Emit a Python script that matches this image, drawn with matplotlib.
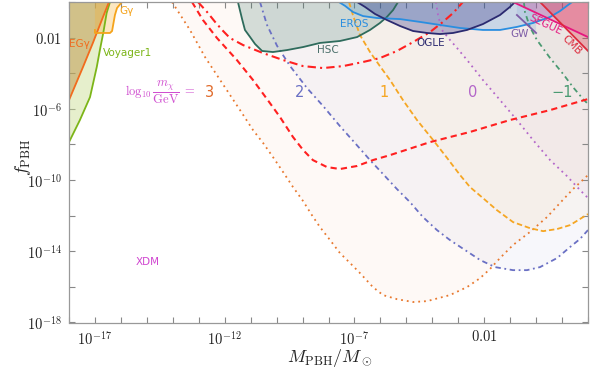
import numpy as np
import matplotlib
matplotlib.use("Agg")
import matplotlib.pyplot as plt
from matplotlib.ticker import FixedLocator, FuncFormatter, NullLocator

plt.rcParams['mathtext.fontset'] = 'cm'
plt.rcParams['font.family'] = ['DejaVu Sans']

# ---------------- data (log10 M/Msun, log10 f_PBH) ----------------
# XDM bounds, one per log10(m_chi/GeV)
xdm3_x = [-14.03, -13.34, -12.76, -12.10, -11.41, -10.91, -10.52, -10.14, -9.75, -9.37, -8.98, -8.64,
          -8.33, -7.94, -7.56, -7.17, -6.79, -6.29, -5.90, -5.36, -4.74, -4.20, -3.32, -2.66, -2.16,
          -1.78, -1.39, -0.89, -0.24, 0.42, 0.92, 1.42, 2.0]
xdm3_y = [0, -1.57, -3.09, -4.55, -6.07, -7.19, -7.92, -8.71, -9.55, -10.39, -11.18, -11.97,
          -12.64, -13.37, -14.10, -14.66, -15.22, -16.01, -16.46, -16.69, -16.85, -16.80, -16.46, -16.01, -15.51,
          -15.00, -14.38, -13.65, -12.92, -12.08, -11.29, -10.51, -9.72]

xdm2_x = [-10.64, -10.37, -9.98, -9.48, -8.83, -8.21, -7.56, -6.98, -6.40, -5.90, -5.36, -4.86, -4.36,
          -3.82, -3.32, -2.74, -2.16, -1.58, -0.89, -0.35, 0.15, 0.81, 1.31, 1.69, 2.0]
xdm2_y = [0, -1.29, -2.47, -3.60, -4.83, -5.84, -6.97, -7.92, -8.88, -9.66, -10.51, -11.24, -12.08,
          -12.81, -13.37, -13.93, -14.49, -14.89, -15.06, -15.06, -14.89, -14.38, -13.76, -13.31, -12.81]

xdm1_x = [-7.21, -7.06, -6.79, -6.40, -6.02, -5.63, -5.13, -4.59, -3.97, -3.43, -2.93, -2.55, -2.05,
          -1.51, -0.89, -0.24, 0.27, 0.81, 1.31, 1.81, 2.0]
xdm1_y = [0, -0.73, -1.85, -2.81, -3.60, -4.38, -5.51, -6.63, -7.75, -8.76, -9.72, -10.39, -11.01,
          -11.69, -12.36, -12.70, -12.87, -12.75, -12.53, -12.08, -11.91]

xdm0_x = [-3.86, -3.78, -3.63, -3.32, -3.05, -2.66, -2.05, -1.39, -0.74, -0.12, 0.54, 1.19, 1.69, 2.0]
xdm0_y = [0, -0.73, -1.57, -2.13, -2.58, -3.26, -4.38, -5.51, -6.63, -7.75, -8.88, -9.78, -10.56, -11.01]

xdmm1_x = [-0.47, -0.43, -0.24, 0.03, 0.54, 1.04, 1.42, 1.81, 2.0]
xdmm1_y = [0, -0.56, -1.40, -2.13, -3.15, -4.04, -4.78, -5.45, -5.73]

red_dash_x = [-13.26, -12.84, -12.30, -11.53, -10.91, -10.37, -9.87, -9.37, -8.98, -8.60, -8.06, -7.56,
              -6.90, -6.29, -5.63, -4.09, -2.55, -1.01, 0.54, 2.0]
red_dash_y = [0, -1.01, -2.02, -3.26, -4.38, -5.45, -6.46, -7.58, -8.31, -8.88, -9.27, -9.38,
              -9.21, -8.88, -8.60, -7.87, -7.30, -6.63, -6.07, -5.45]

red_dd_x = [-13.03, -12.68, -12.37, -12.10, -11.80, -11.29, -10.52, -9.75, -8.98, -8.21, -7.44, -6.67,
            -6.02, -5.36, -4.74, -4.09, -3.59, -3.20, -2.82]
red_dd_y = [0, -0.56, -1.12, -1.57, -2.02, -2.42, -2.87, -3.26, -3.60, -3.71, -3.60, -3.37,
            -3.15, -2.75, -2.25, -1.69, -1.12, -0.62, 0]

# other PBH constraints
egg_x = [-18.0, -17.46, -17.08, -16.69, -16.46]
egg_y = [-5.51, -3.65, -2.30, -0.84, 0]
gg_x = [-17.0, -17.0, -16.42, -16.34, -16.23, -16.15, -15.96]
gg_y = [-1.57, -1.74, -1.74, -1.63, -0.73, -0.34, 0]
voy_x = [-18.0, -17.58, -17.19, -16.93, -16.81, -16.68, -16.55, -16.42]
voy_y = [-7.87, -6.63, -5.34, -3.65, -2.70, -1.74, -0.62, 0]
hsc_x = [-11.49, -11.33, -11.22, -11.02, -10.83, -10.56, -10.14, -9.60, -8.98, -8.33, -7.56, -6.90,
         -6.40, -6.02, -5.75, -5.51, -5.32]
hsc_y = [0, -0.96, -1.57, -1.97, -2.36, -2.75, -2.81, -2.70, -2.53, -2.30, -2.19, -1.97,
         -1.57, -1.18, -0.84, -0.45, 0]
eros_x = [-7.60, -7.36, -7.06, -6.67, -6.13, -5.24, -4.47, -3.70, -2.93, -2.05, -1.39, -0.74, -0.12,
          0.54, 0.92, 1.23, 1.39]
eros_y = [0, -0.22, -0.56, -0.79, -0.90, -0.96, -1.12, -1.29, -1.46, -1.57, -1.57, -1.40, -1.18,
          -0.84, -0.51, -0.17, 0]
ogle_x = [-6.90, -6.59, -6.21, -5.75, -5.24, -4.74, -4.20, -3.70, -3.20, -2.66, -2.05, -1.39, -1.01, -0.81]
ogle_y = [0, -0.28, -0.67, -1.01, -1.35, -1.63, -1.74, -1.80, -1.74, -1.57, -1.24, -0.73, -0.28, 0]
gw_x = [-0.74, 0.0]
gw_y = [-0.73, -1.74]
segue_x = [-0.89, 2.0]
segue_y = [0, -1.97]
cmb_x = [0.15, 2.0]
cmb_y = [0, -2.75]

mchi_labels = ['3', '2', '1', '0', '\u22121']
mchi_label_x = [-12.57, -9.10, -5.86, -2.43, 1.0]

x_tick_labels = {-17: r'$10^{-17}$', -12: r'$10^{-12}$', -7: r'$10^{-7}$', -2: r'$0.01$'}
y_tick_labels = {-18: r'$10^{-18}$', -14: r'$10^{-14}$', -10: r'$10^{-10}$', -6: r'$10^{-6}$', -2: r'$0.01$'}

# ---------------- figure ----------------
fig = plt.figure(figsize=(5.9, 3.8), dpi=100)
ax = fig.add_axes([69/590, 1-322.5/380, (588-69)/590, (322.5-2)/380])
ax.set_xscale('log')
ax.set_yscale('log')
ax.set_xlim(1e-18, 1e2)
ax.set_ylim(1e-18, 1)

def p(a):
    return 10.0**np.asarray(a, dtype=float)

xdm = [
    (xdm3_x, xdm3_y, '#e8782e', (0, (1, 2.2)), 0.04),
    (xdm2_x, xdm2_y, '#6a70c4', (0, (3, 2, 1, 2)), 0.05),
    (xdm1_x, xdm1_y, '#f5a623', (0, (3, 1.6)), 0.04),
    (xdm0_x, xdm0_y, '#b366c9', (0, (1, 2.2)), 0.045),
    (xdmm1_x, xdmm1_y, '#4b9a72', (0, (3, 2, 1, 2)), 0.04),
]
for xs, ys, c, ls, a in xdm:
    ax.fill_between(p(xs), p(ys), 1, color=c, alpha=a, lw=0, zorder=1)

# constraint fills
ax.fill(p(voy_x + [-18.0]), p(voy_y + [0]), color='#c9dd8f', alpha=0.45, lw=0, zorder=2)
ax.fill(p(egg_x + [-18.0]), p(egg_y + [0]), color='#b98a38', alpha=0.45, lw=0, zorder=2)
ax.fill(p(gg_x + [-17.0]), p(gg_y + [0]), color='#f8b030', alpha=0.3, lw=0, zorder=2)
ax.fill(p(hsc_x), p(hsc_y), color='#2e6b5c', alpha=0.2, lw=0, zorder=2)
ax.fill(p(eros_x), p(eros_y), color='#2a8ee0', alpha=0.2, lw=0, zorder=2)
ax.fill(p(ogle_x), p(ogle_y), color='#2b2a80', alpha=0.3, lw=0, zorder=2)
ax.fill(p([gw_x[0]] + gw_x + [gw_x[1]]), p([0] + gw_y + [0]), color='#9fb8dc', alpha=0.35, lw=0, zorder=2)
ax.fill(p(segue_x + [2.0]), p(segue_y + [0]), color='#e5177f', alpha=0.22, lw=0, zorder=2)
ax.fill(p(cmb_x + [2.0]), p(cmb_y + [0]), color='#dc2a3c', alpha=0.3, lw=0, zorder=2)

# lines
for xs, ys, c, ls, a in xdm:
    ax.plot(p(xs), p(ys), color=c, ls=ls, lw=1.3, zorder=4)
ax.plot(p(red_dash_x), p(red_dash_y), color='#ff2020', ls=(0, (3, 2)), lw=1.5, zorder=4)
ax.plot(p(red_dd_x), p(red_dd_y), color='#ff2020', ls=(0, (4, 2, 1, 2)), lw=1.5, zorder=4)

ax.plot(p(voy_x), p(voy_y), color='#7cb518', lw=1.3, zorder=5)
ax.plot(p(egg_x), p(egg_y), color='#f26b1d', lw=1.3, zorder=5)
ax.plot(p(gg_x), p(gg_y), color='#f5a31a', lw=1.3, zorder=5)
ax.plot(p(hsc_x), p(hsc_y), color='#2e6b5c', lw=1.3, zorder=5)
ax.plot(p(eros_x), p(eros_y), color='#2a8ee0', lw=1.3, zorder=5)
ax.plot(p(ogle_x), p(ogle_y), color='#2b2a70', lw=1.3, zorder=5)
ax.plot(p(gw_x), p(gw_y), color='#7d5ba6', lw=1.3, zorder=5)
ax.plot(p(segue_x), p(segue_y), color='#e5177f', lw=1.3, zorder=5)
ax.plot(p(cmb_x), p(cmb_y), color='#dc2a3c', lw=1.3, zorder=5)

# labels
lab = dict(fontsize=7.5, zorder=6, ha='center', va='center')
ax.text(p(-17.58), p(-2.36), 'EG\u03b3', color='#f26b1d', **lab)
ax.text(p(-15.80), p(-0.51), 'G\u03b3', color='#f5a31a', **lab)
ax.text(p(-16.69), p(-2.87), 'Voyager1', color='#7cb518', fontsize=7.5, ha='left', va='center', zorder=6)
ax.text(p(-8.02), p(-2.70), 'HSC', color='#4a6f6a', **lab)
ax.text(p(-7.02), p(-1.24), 'EROS', color='#2a8ee0', **lab)
ax.text(p(-4.05), p(-2.30), 'OGLE', color='#2b2a70', **lab)
ax.text(p(-0.62), p(-1.80), 'GW', color='#7d5ba6', **lab)
ax.text(p(0.38), p(-1.25), 'SEGUE', color='#e5177f', rotation=-25, rotation_mode='anchor', **lab)
ax.text(p(1.38), p(-2.42), 'CMB', color='#dc2a3c', rotation=-45, rotation_mode='anchor', **lab)
ax.text(p(-14.96), p(-14.61), 'XDM', color='#d046d0', **lab)

ax.text(p(-15.85), p(-5.06), r'$\log_{10}\dfrac{m_\chi}{\mathrm{GeV}}\;=$', color='#d04fd0',
        fontsize=9, ha='left', va='center', zorder=6)
mchi_colors = ['#e06a2a', '#6a70c4', '#f5a623', '#b366c9', '#4b9a72']
for t, xl, c in zip(mchi_labels, mchi_label_x, mchi_colors):
    ax.text(p(xl), p(-5.06), t, color=c, fontsize=10.5, ha='center', va='center', zorder=6)

# axes styling
ax.xaxis.set_major_locator(FixedLocator(p(np.arange(-18, 3))))
ax.xaxis.set_minor_locator(NullLocator())
ax.yaxis.set_major_locator(FixedLocator(p(np.arange(-18, 1, 2))))
ax.yaxis.set_minor_locator(NullLocator())
ax.xaxis.set_major_formatter(FuncFormatter(lambda v, pos: x_tick_labels.get(int(round(np.log10(v))), '')))
ax.yaxis.set_major_formatter(FuncFormatter(lambda v, pos: y_tick_labels.get(int(round(np.log10(v))), '')))
ax.tick_params(which='both', direction='in', length=4, width=0.8, color='#888888',
               top=True, right=True, labelsize=10.5, labelcolor='#222222', pad=5)
for s in ax.spines.values():
    s.set_color('#999999')
    s.set_linewidth(0.9)
    s.set_zorder(7)

ax.set_xlabel(r'$M_{\rm PBH}/M_\odot$', fontsize=13, color='#222222')
ax.set_ylabel(r'$f_{\rm PBH}$', fontsize=13, color='#222222')
ax.xaxis.set_label_coords(0.503, -0.076)
ax.yaxis.set_label_coords(-0.07, 0.515)

fig.savefig('out.png', dpi=100, facecolor='white')
